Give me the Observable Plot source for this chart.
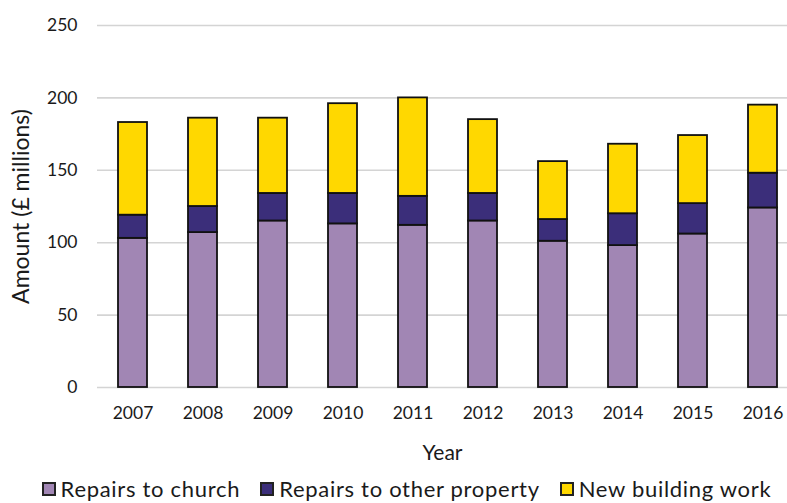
<!DOCTYPE html>
<html>
<head>
<meta charset="utf-8">
<script src="https://cdn.jsdelivr.net/npm/d3@7"></script>
<script src="https://cdn.jsdelivr.net/npm/@observablehq/plot@0.6"></script>
<style>
  html, body { margin: 0; padding: 0; background: #fff; }
  body { width: 787px; height: 503px; overflow: hidden; font-family: Lato, "Open Sans", sans-serif; color: #1a1a1a; }
  #legend { display: flex; justify-content: center; align-items: center; gap: 20px; font-size: 22px; line-height: 24px; letter-spacing: 0.7px; margin-top: 3px; margin-left: 26px; white-space: nowrap; }
  #legend .item { display: flex; align-items: center; gap: 5px; }
  #legend .sw { width: 14px; height: 14px; border: 2px solid #222; box-sizing: border-box; }
</style>
</head>
<body>
<div id="chart"></div>
<div id="legend"></div>
<script>
const years = ["2007","2008","2009","2010","2011","2012","2013","2014","2015","2016"];
const seriesNames = ["Repairs to church", "Repairs to other property", "New building work"];
const church   = [103, 107, 115, 113, 112, 115, 101,  98, 106, 124];
const other    = [ 16,  18,  19,  21,  20,  19,  15,  22,  21,  24];
const newWork  = [ 64,  61,  52,  62,  68,  51,  40,  48,  47,  47];
const colors = ["#A186B4", "#3B2E7A", "#FFD800"];
const yTicks = [0, 50, 100, 150, 200, 250];

const seriesValues = [church, other, newWork];
const data = [];
years.forEach((yr, i) => {
  seriesNames.forEach((s, k) => data.push({year: yr, series: s, value: seriesValues[k][i]}));
});

const chart = Plot.plot({
  width: 787,
  height: 474,
  marginLeft: 97,
  marginRight: 0,
  marginTop: 25,
  marginBottom: 87,
  style: {fontFamily: "Lato, 'Open Sans', sans-serif", fontSize: "17px", color: "#1a1a1a", background: "white"},
  x: {domain: years, range: [96.5, 797.6], paddingInner: 0.586, paddingOuter: 0.293},
  y: {domain: [0, 250]},
  color: {domain: seriesNames, range: colors},
  marks: [
    Plot.gridY(yTicks, {stroke: "#d4d4d4", strokeOpacity: 1, strokeWidth: 1.6}),
    Plot.axisY({ticks: yTicks, tickSize: 0, tickPadding: 20, label: null, fontSize: 17.5}),
    Plot.axisY({ticks: [], tickSize: 0, label: "Amount (£ millions)", labelAnchor: "center", labelArrow: "none", labelOffset: 85, fontSize: 23}),
    Plot.axisX({tickSize: 0, tickPadding: 19, label: null, fontSize: 17.5}),
    Plot.axisX({ticks: [], tickSize: 0, label: "Year", labelAnchor: "center", labelArrow: "none", labelOffset: 72, fontSize: 21}),
    Plot.barY(data, {x: "year", y: "value", fill: "series", stroke: "#111", strokeWidth: 1.8, order: seriesNames})
  ]
});
document.getElementById("chart").appendChild(chart);

const legend = document.getElementById("legend");
seriesNames.forEach((s, k) => {
  const item = document.createElement("div");
  item.className = "item";
  const sw = document.createElement("span");
  sw.className = "sw";
  sw.style.background = colors[k];
  const t = document.createElement("span");
  t.textContent = s;
  item.appendChild(sw); item.appendChild(t);
  legend.appendChild(item);
});
</script>
</body>
</html>
